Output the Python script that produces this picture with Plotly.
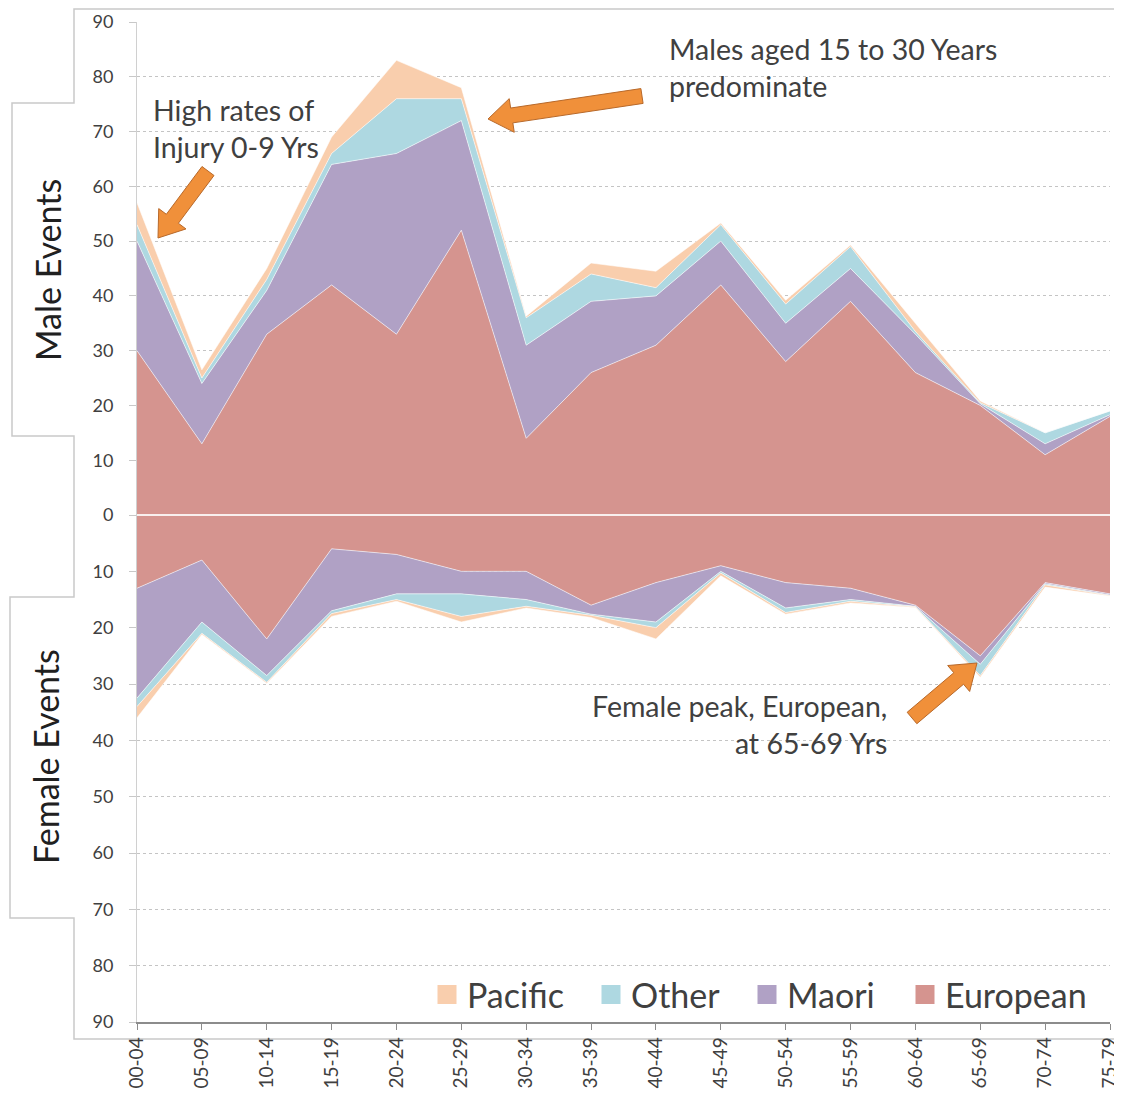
import math
import plotly.graph_objects as go

categories = ["00-04", "05-09", "10-14", "15-19", "20-24", "25-29", "30-34", "35-39",
              "40-44", "45-49", "50-54", "55-59", "60-64", "65-69", "70-74", "75-79"]

male_european = [30, 13, 33, 42, 33, 52, 14, 26, 31, 42, 28, 39, 26, 20, 11, 18]
male_maori = [20, 11, 8, 22, 33, 20, 17, 13, 9, 8, 7, 6, 7, 0.3, 2, 0.3]
male_other = [3, 1, 2, 2, 10, 4, 5, 5, 1.5, 3, 3.5, 4, 0.5, 0.2, 2, 0.7]
male_pacific = [4, 1.5, 2, 3, 7, 2, 0.3, 2, 3, 0.3, 0.7, 0.3, 1.5, 0.3, 0, 0]

female_european = [13, 8, 22, 6, 7, 10, 10, 16, 12, 9, 12, 13, 16, 25, 12, 14]
female_maori = [19.5, 11, 6.5, 11, 7, 4, 5, 1.6, 7, 1, 4.5, 2, 0.2, 1.5, 0.2, 0.2]
female_other = [1.5, 2, 1.2, 0.5, 1, 4, 1.2, 0.2, 1, 0.3, 0.8, 0.3, 0.1, 2, 0.2, 0.1]
female_pacific = [2, 0.2, 0.2, 0.5, 0.3, 1, 0.3, 0.4, 2, 0.5, 0.3, 0.3, 0.1, 0.3, 0.4, 0.1]

groups = ["European", "Maori", "Other", "Pacific"]
legend_order = ["Pacific", "Other", "Maori", "European"]
colors = {"European": "#D5948F", "Maori": "#B0A1C5", "Other": "#AED8E1", "Pacific": "#F9CEAD"}

male_ticks = [0, 10, 20, 30, 40, 50, 60, 70, 80, 90]
female_ticks = [10, 20, 30, 40, 50, 60, 70, 80, 90]

FONT = "Lato"
TXT = "#404040"

# page-pixel frame of the reference; the browser body has an 8px margin
OFF = 8
W, H = 1122 - OFF, 1104 - 2 * OFF
PLOT_L, PLOT_R, PLOT_T, PLOT_B = 137, 1110, 22, 1022   # page pixels
PW = PLOT_R - PLOT_L
PH = PLOT_B - PLOT_T
ZERO_PX = 515


def px(xp):
    return (xp - PLOT_L) / PW


def py(yp):
    return (PLOT_B - yp) / PH


zero_frac = py(ZERO_PX)

fig = go.Figure()

male_series = {"European": male_european, "Maori": male_maori, "Other": male_other, "Pacific": male_pacific}
female_series = {"European": female_european, "Maori": female_maori, "Other": female_other, "Pacific": female_pacific}

for g in groups:
    fig.add_trace(go.Scatter(
        x=categories, y=male_series[g], mode="lines", stackgroup="male",
        line=dict(width=1, color="rgba(255,255,255,0.55)"), fillcolor=colors[g],
        name=g, showlegend=False, yaxis="y"))
for g in groups:
    fig.add_trace(go.Scatter(
        x=categories, y=[-v for v in female_series[g]], mode="lines", stackgroup="female",
        line=dict(width=1, color="rgba(255,255,255,0.55)"), fillcolor=colors[g],
        name=g, showlegend=False, yaxis="y2"))

# legend entries, one legend per entry so each can be placed like the reference
legend_centers = {"Pacific": 447, "Other": 611, "Maori": 767, "European": 925}
legend_layout = {}
for i, g in enumerate(legend_order):
    lname = "legend" if i == 0 else f"legend{i + 1}"
    fig.add_trace(go.Scatter(x=[None], y=[None], mode="markers", name=g,
                             marker=dict(symbol="square", size=16, color=colors[g],
                                         line=dict(color=colors[g], width=3)),
                             showlegend=True, yaxis="y", legend=lname))
    legend_layout[lname] = dict(
        orientation="h", x=px(legend_centers[g] - 20), xanchor="left",
        y=py(995), yanchor="middle",
        font=dict(family=FONT, size=34, color=TXT), bgcolor="rgba(0,0,0,0)",
        itemwidth=30, borderwidth=0)

axis_common = dict(
    showgrid=True, gridcolor="#c4c4c4", griddash="dot", gridwidth=1,
    showline=True, linecolor="#d0d0d0", linewidth=1,
    ticks="outside", ticklen=7, tickcolor="#c8c8c8",
    tickfont=dict(family=FONT, size=18, color=TXT),
    zeroline=False, ticklabelstandoff=12, fixedrange=True, automargin=False,
)

fig.update_layout(
    width=W, height=H,
    margin=dict(l=PLOT_L - OFF, r=W - (PLOT_R - OFF), t=PLOT_T - OFF, b=H - (PLOT_B - OFF),
                autoexpand=False),
    paper_bgcolor="white", plot_bgcolor="white",
    font=dict(family=FONT, color=TXT),
    xaxis=dict(type="category", range=[0, len(categories) - 1], anchor="y2",
               showline=True, linecolor="#8c8c8c", linewidth=1.5,
               ticks="outside", ticklen=6, tickcolor="#8c8c8c",
               tickangle=-90, tickfont=dict(family=FONT, size=19, color=TXT),
               showgrid=False, zeroline=False, fixedrange=True, automargin=False),
    yaxis=dict(domain=[zero_frac, 1], range=[0, 90], anchor="x",
               tickvals=male_ticks, ticktext=[str(v) for v in male_ticks], **axis_common),
    yaxis2=dict(domain=[0, zero_frac], range=[-90, 0], anchor="x",
                tickvals=[-v for v in female_ticks], ticktext=[str(v) for v in female_ticks],
                **axis_common),
    showlegend=True,
    **legend_layout,
)

shapes = []
# zero line
shapes.append(dict(type="line", xref="paper", yref="paper", x0=0, x1=1, y0=zero_frac, y1=zero_frac,
                   line=dict(color="rgba(255,255,255,0.85)", width=2), layer="above"))

# outer stepped border
border_pts = [(1122, 9), (74, 9), (74, 103), (12, 103), (12, 436), (74, 436), (74, 597),
              (10, 597), (10, 918), (74, 918), (74, 1039), (1122, 1039)]
path = "M " + " L ".join(f"{px(a):.5f},{py(b):.5f}" for a, b in border_pts)
shapes.append(dict(type="path", xref="paper", yref="paper", path=path,
                   line=dict(color="#c9c9c9", width=1.5), layer="below"))


def block_arrow(tail, tip, shaft=15, head_w=34, head_len=24):
    tx, ty = tail
    hx, hy = tip
    dx, dy = hx - tx, hy - ty
    ln = math.hypot(dx, dy)
    ux, uy = dx / ln, dy / ln
    nx, ny = -uy, ux
    bx, by = hx - ux * head_len, hy - uy * head_len
    pts = [
        (tx + nx * shaft / 2, ty + ny * shaft / 2),
        (bx + nx * shaft / 2, by + ny * shaft / 2),
        (bx + nx * head_w / 2, by + ny * head_w / 2),
        (hx, hy),
        (bx - nx * head_w / 2, by - ny * head_w / 2),
        (bx - nx * shaft / 2, by - ny * shaft / 2),
        (tx - nx * shaft / 2, ty - ny * shaft / 2),
    ]
    p = "M " + " L ".join(f"{px(a):.5f},{py(b):.5f}" for a, b in pts) + " Z"
    return dict(type="path", xref="paper", yref="paper", path=p,
                fillcolor="#F0903A", line=dict(color="#B8692A", width=1), layer="above")


shapes.append(block_arrow((208, 171), (158, 238)))
shapes.append(block_arrow((642, 96), (488, 119)))
shapes.append(block_arrow((912, 718), (977, 663)))

fig.update_layout(shapes=shapes)

annos = [
    dict(text="High rates of<br>Injury 0-9 Yrs", x=px(151), y=py(91), xanchor="left", yanchor="top",
         align="left", font=dict(family=FONT, size=28.5, color=TXT)),
    dict(text="Males aged 15 to 30 Years<br>predominate", x=px(667), y=py(30), xanchor="left", yanchor="top",
         align="left", font=dict(family=FONT, size=28.5, color=TXT)),
    dict(text="Female peak, European,<br>at 65-69 Yrs", x=px(889), y=py(687), xanchor="right", yanchor="top",
         align="right", font=dict(family=FONT, size=28.5, color=TXT)),
    dict(text="Male Events", x=px(47), y=py(270), xanchor="center", yanchor="middle", textangle=-90,
         font=dict(family=FONT, size=34, color="#202020")),
    dict(text="Female Events", x=px(45), y=py(757), xanchor="center", yanchor="middle", textangle=-90,
         font=dict(family=FONT, size=34, color="#202020")),
]
for a in annos:
    a.update(xref="paper", yref="paper", showarrow=False)
fig.update_layout(annotations=annos)

fig.write_html("out.html")
